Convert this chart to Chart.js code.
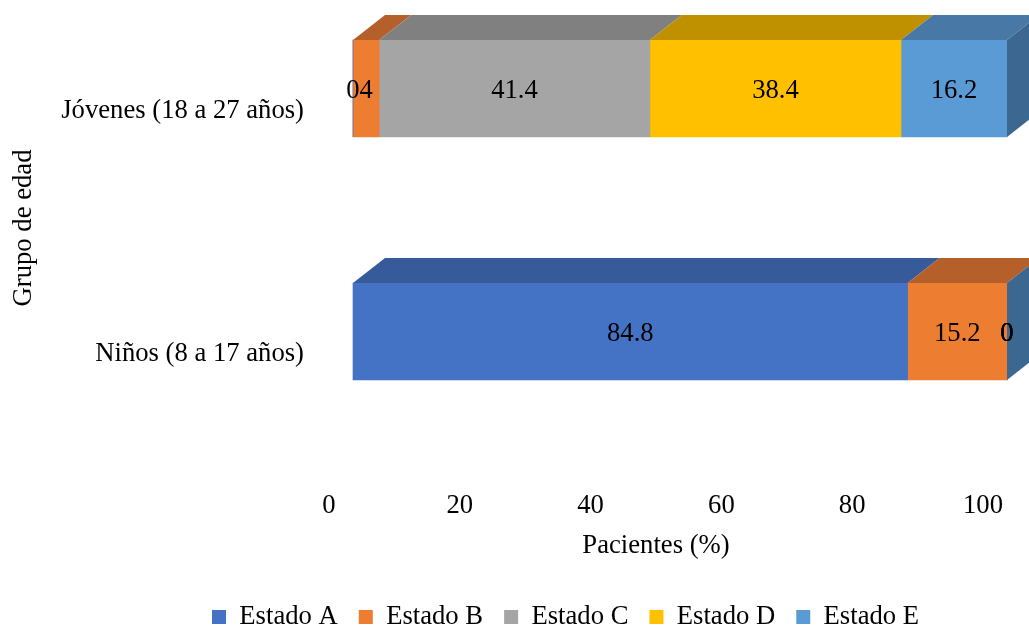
<!DOCTYPE html>
<html>
<head>
<meta charset="utf-8">
<script src="https://cdn.jsdelivr.net/npm/chart.js@4.4.0/dist/chart.umd.min.js"></script>
<style>
  html, body { margin: 0; padding: 0; background: #fff; }
  #wrap { position: relative; width: 1029px; height: 625px; }
</style>
</head>
<body>
<div id="wrap"><canvas id="chart"></canvas></div>
<script>
// data
const groups = ['Jóvenes (18 a 27 años)', 'Niños (8 a 17 años)'];
const estadoA = [0, 84.8];
const estadoB = [4, 15.2];
const estadoC = [41.4, 0];
const estadoD = [38.4, 0];
const estadoE = [16.2, 0];
const seriesNames = ['Estado A', 'Estado B', 'Estado C', 'Estado D', 'Estado E'];

// styles
const frontColors = ['#4472C4', '#ED7D31', '#A5A5A5', '#FFC000', '#5B9BD5'];
const topColors = ['#365A9A', '#B5602A', '#808080', '#BF9000', '#4878A6'];
const sideColor = '#3C6790';
const depthX = 32, depthY = 25;
const FONT = "'Liberation Serif', 'Times New Roman', serif";
const FSIZE = 26.67;
const textNudge = 2.5; // canvas 'middle' sits a bit high for this font

const bar3d = {
  id: 'bar3d',
  afterLayout(chart) {
    // legend sits right of centre in the original
    const lg = chart.legend;
    const p = lg.options.labels.padding;
    const start = (lg.left + p + lg.right - lg.lineWidths[0]) / 2;
    const shift = 212 - start;
    lg.left += shift;
    lg.right += shift;
  },
  afterDatasetsDraw(chart) {
    const ctx = chart.ctx;
    const nSets = chart.data.datasets.length;
    ctx.save();
    chart.data.labels.forEach((lab, i) => {
      let lastBar = null;
      for (let d = 0; d < nSets; d++) {
        const bar = chart.getDatasetMeta(d).data[i];
        const top = bar.y - bar.height / 2;
        const x0 = Math.min(bar.base, bar.x);
        const x1 = Math.max(bar.base, bar.x);
        if (x1 - x0 > 0.5) {
          ctx.fillStyle = topColors[d];
          ctx.beginPath();
          ctx.moveTo(x0, top);
          ctx.lineTo(x1, top);
          ctx.lineTo(x1 + depthX, top - depthY);
          ctx.lineTo(x0 + depthX, top - depthY);
          ctx.closePath();
          ctx.fill();
        }
        lastBar = bar;
      }
      // right side face
      const top = lastBar.y - lastBar.height / 2;
      const bottom = lastBar.y + lastBar.height / 2;
      const xe = Math.max(lastBar.base, lastBar.x);
      ctx.fillStyle = sideColor;
      ctx.beginPath();
      ctx.moveTo(xe, top);
      ctx.lineTo(xe + depthX, top - depthY);
      ctx.lineTo(xe + depthX, bottom - depthY);
      ctx.lineTo(xe, bottom);
      ctx.closePath();
      ctx.fill();
    });
    // value labels
    ctx.font = FSIZE + 'px ' + FONT;
    ctx.fillStyle = '#000';
    ctx.textAlign = 'center';
    ctx.textBaseline = 'middle';
    chart.data.datasets.forEach((ds, d) => {
      chart.getDatasetMeta(d).data.forEach((bar, i) => {
        ctx.fillText(String(ds.data[i]), (bar.base + bar.x) / 2, bar.y + textNudge);
      });
    });
    ctx.restore();
  },
  afterDraw(chart) {
    const ctx = chart.ctx;
    const area = chart.chartArea;
    ctx.save();
    ctx.font = FSIZE + 'px ' + FONT;
    ctx.fillStyle = '#000';
    ctx.textAlign = 'center';
    ctx.textBaseline = 'middle';
    ctx.fillText('Pacientes (%)', (area.left + area.right) / 2 - 24, 543 + textNudge);
    ctx.translate(24, 228);
    ctx.rotate(-Math.PI / 2);
    ctx.fillText('Grupo de edad', 0, 0);
    ctx.restore();
  }
};

const seriesData = [estadoA, estadoB, estadoC, estadoD, estadoE];

new Chart(document.getElementById('chart'), {
  type: 'bar',
  data: {
    labels: groups,
    datasets: seriesNames.map((name, k) => ({
      label: name,
      data: seriesData[k],
      backgroundColor: frontColors[k],
      borderWidth: 0,
      barThickness: 97,
      clip: false
    }))
  },
  options: {
    indexAxis: 'y',
    responsive: true,
    maintainAspectRatio: false,
    animation: false,
    layout: { padding: { top: 88.5, left: 0, right: 22, bottom: -15.3 } },
    scales: {
      x: {
        stacked: true,
        min: 0,
        max: 100,
        grid: { display: false, drawTicks: false },
        border: { display: false },
        ticks: {
          stepSize: 20,
          padding: 158,
          labelOffset: -24,
          color: '#000',
          font: { family: FONT, size: FSIZE }
        },
        afterFit(scale) {
          scale.height = 251.1;
          scale.paddingLeft = 0;
          scale.paddingRight = 0;
        }
      },
      y: {
        stacked: true,
        offset: false,
        grid: { display: false, drawTicks: false },
        border: { display: false },
        ticks: {
          padding: 49,
          labelOffset: 22,
          color: '#000',
          font: { family: FONT, size: FSIZE }
        },
        afterFit(scale) {
          scale.width = 353;
          scale.paddingTop = 0;
          scale.paddingBottom = 0;
        }
      }
    },
    plugins: {
      legend: {
        position: 'bottom',
        labels: {
          boxWidth: 14,
          boxHeight: 14,
          padding: 21,
          color: '#000',
          font: { family: FONT, size: FSIZE }
        }
      },
      tooltip: { enabled: false }
    }
  },
  plugins: [bar3d]
});
</script>
</body>
</html>
